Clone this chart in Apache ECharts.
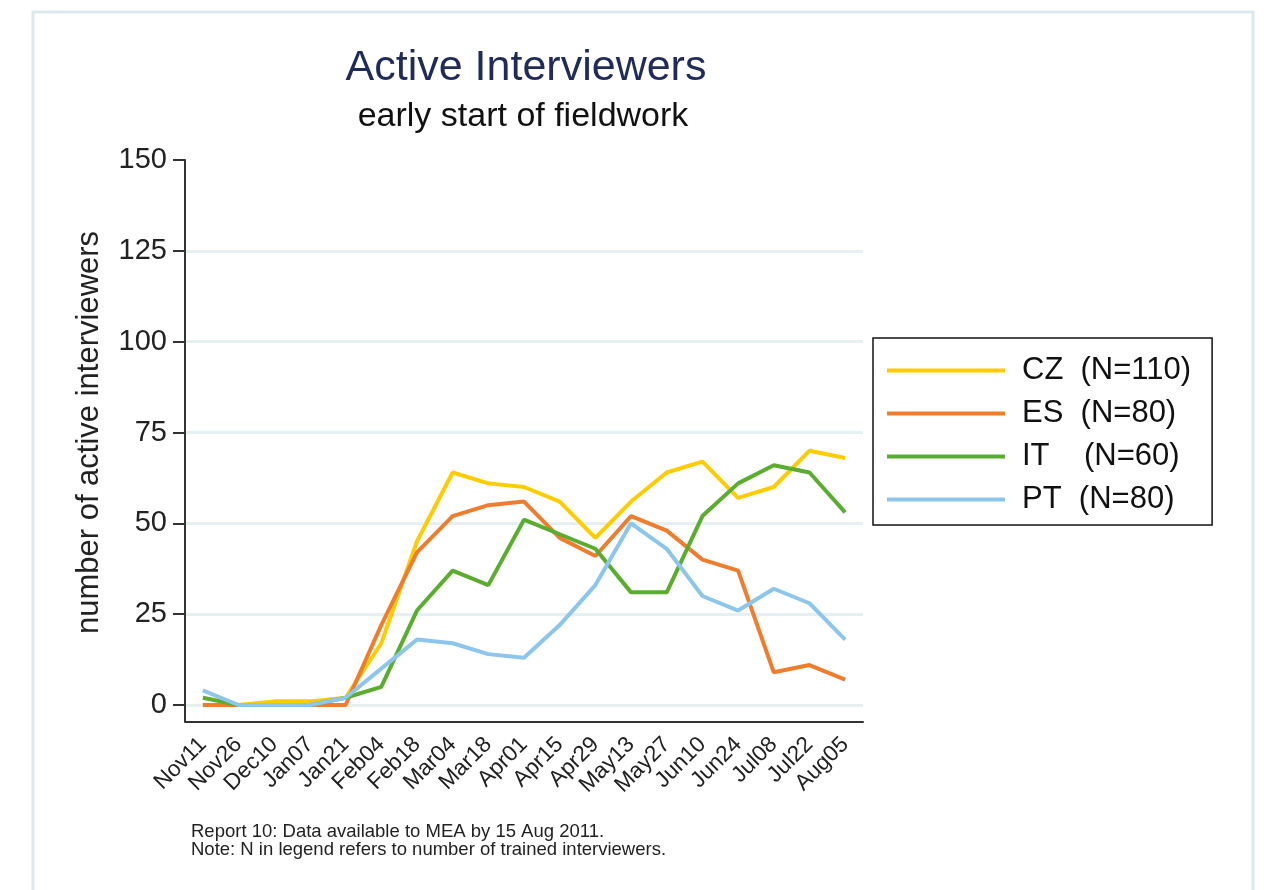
<!DOCTYPE html>
<html>
<head>
<meta charset="utf-8">
<title>Active Interviewers</title>
<script src="https://cdn.jsdelivr.net/npm/echarts@6/dist/echarts.min.js"></script>
<style>
  html, body { margin: 0; padding: 0; background: #fff; }
  #main { width: 1268px; height: 890px; }
</style>
</head>
<body>
<div id="main"></div>
<script>
// fortnightly report dates
var weeks = ['Nov11', 'Nov26', 'Dec10', 'Jan07', 'Jan21', 'Feb04', 'Feb18', 'Mar04', 'Mar18', 'Apr01',
  'Apr15', 'Apr29', 'May13', 'May27', 'Jun10', 'Jun24', 'Jul08', 'Jul22', 'Aug05'];

// active interviewers per country
var czValues = [0, 0, 1, 1, 2, 17, 45, 64, 61, 60, 56, 46, 56, 64, 67, 57, 60, 70, 68];
var esValues = [0, 0, 0, 0, 0, 22, 42, 52, 55, 56, 46, 41, 52, 48, 40, 37, 9, 11, 7];
var itValues = [2, 0, 0, 0, 2, 5, 26, 37, 33, 51, 47, 43, 31, 31, 52, 61, 66, 64, 53];
var ptValues = [4, 0, 0, 0, 2, 10, 18, 17, 14, 13, 22, 33, 50, 43, 30, 26, 32, 28, 18];

var seriesNames = ['CZ  (N=110)', 'ES  (N=80)', 'IT    (N=60)', 'PT  (N=80)'];
var seriesColors = ['#ffcc00', '#ef7d2d', '#5aad2e', '#8cc6ec'];
var yTicks = [0, 25, 50, 75, 100, 125, 150];

var FONT = '"Liberation Sans", Arial, sans-serif';
var gridColor = '#e6eff2';

var chart = echarts.init(document.getElementById('main'), null, { renderer: 'canvas' });

function makeLine(name, data, color) {
  return {
    name: name,
    type: 'line',
    data: data,
    symbol: 'none',
    clip: false,
    lineStyle: { color: color, width: 4 },
    itemStyle: { color: color }
  };
}

var option = {
  backgroundColor: '#ffffff',
  animation: false,
  title: [{
    text: 'Active Interviewers',
    left: 521,
    top: 42,
    textAlign: 'center',
    textStyle: { fontFamily: FONT, fontSize: 43, fontWeight: 'normal', color: '#1f2b58', lineHeight: 43 }
  }, {
    text: 'early start of fieldwork',
    left: 518,
    top: 95,
    textAlign: 'center',
    textStyle: { fontFamily: FONT, fontSize: 34, fontWeight: 'normal', color: '#111', lineHeight: 34 }
  }],
  legend: {
    orient: 'vertical',
    left: 873,
    top: 338,
    padding: [17, 21, 10, 14],
    icon: 'rect',
    itemWidth: 118,
    itemHeight: 4,
    itemGap: 12,
    itemTextGap: 15,
    borderColor: '#111',
    borderWidth: 1.5,
    textStyle: { fontFamily: FONT, fontSize: 31, color: '#111', lineHeight: 30, padding: [0, 0, 0, 12] },
    data: seriesNames
  },
  grid: { left: 185, right: 405, top: 160, bottom: 185, containLabel: false },
  xAxis: {
    type: 'category',
    data: weeks,
    boundaryGap: true,
    offset: 17,
    axisLine: { onZero: false, lineStyle: { color: '#333', width: 2 } },
    axisTick: { alignWithLabel: true, length: 12, lineStyle: { color: '#333', width: 2 } },
    axisLabel: { interval: 0, rotate: 45, margin: 19, fontFamily: FONT, fontSize: 22.5, color: '#222' },
    splitLine: { show: false }
  },
  yAxis: {
    type: 'value',
    min: 0,
    max: 150,
    interval: 25,
    name: 'number of active interviewers',
    nameLocation: 'middle',
    nameGap: 80,
    nameTextStyle: { fontFamily: FONT, fontSize: 31, color: '#222' },
    axisLine: { show: true, lineStyle: { color: '#333', width: 2 } },
    axisTick: { show: true, length: 12, lineStyle: { color: '#333', width: 2 } },
    axisLabel: { margin: 18, fontFamily: FONT, fontSize: 29, color: '#222' },
    splitLine: {
      show: true,
      lineStyle: {
        width: 3,
        color: yTicks.map(function (v) { return v === 150 ? 'rgba(0,0,0,0)' : gridColor; })
      }
    }
  },
  series: [
    makeLine(seriesNames[0], czValues, seriesColors[0]),
    makeLine(seriesNames[1], esValues, seriesColors[1]),
    makeLine(seriesNames[2], itValues, seriesColors[2]),
    makeLine(seriesNames[3], ptValues, seriesColors[3])
  ]
};

chart.setOption(option);

// outer frame, y axis stub down to the offset x axis, footnote
var zeroPix = chart.convertToPixel({ yAxisIndex: 0 }, 0);
chart.setOption({
  graphic: [{
    type: 'rect',
    shape: { x: 33, y: 12, width: 1220, height: 900 },
    style: { fill: 'none', stroke: '#dce8ee', lineWidth: 3 },
    silent: true
  }, {
    type: 'line',
    shape: { x1: 185, y1: zeroPix, x2: 185, y2: zeroPix + 17 },
    style: { stroke: '#333', lineWidth: 2 },
    silent: true
  }, {
    type: 'text',
    left: 191,
    top: 822,
    style: {
      text: 'Report 10: Data available to MEA by 15 Aug 2011.\nNote: N in legend refers to number of trained interviewers.',
      fontFamily: FONT,
      fontSize: 18.5,
      lineHeight: 18,
      fill: '#222'
    },
    silent: true
  }]
});
</script>
</body>
</html>
